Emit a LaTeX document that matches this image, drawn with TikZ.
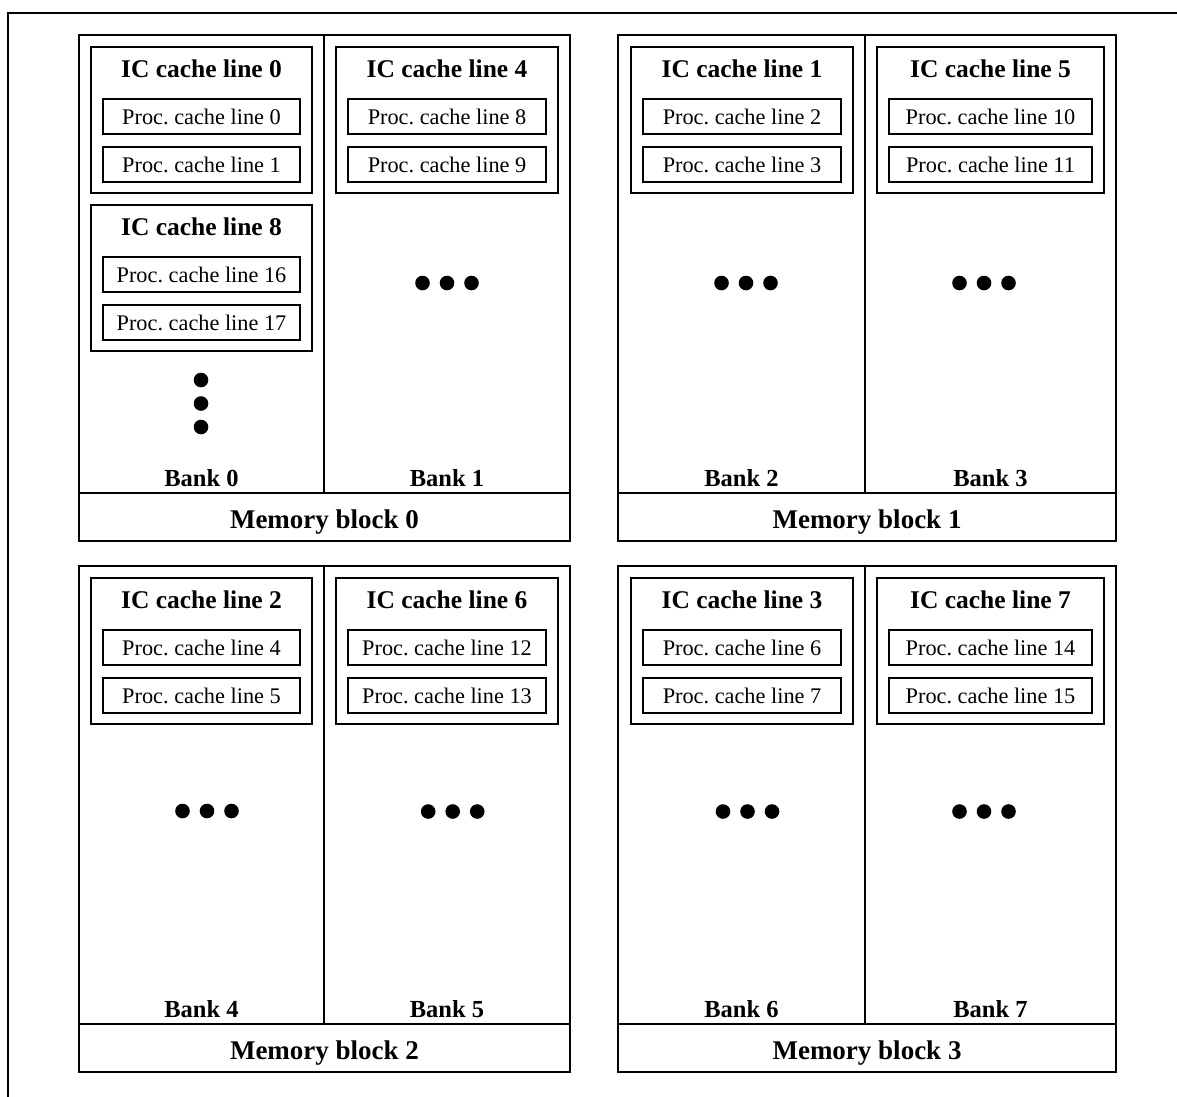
\documentclass[tikz,border=0pt]{standalone}
\usepackage{fontspec}
\setmainfont{Liberation Serif}
\usetikzlibrary{calc}
\frenchspacing
\tikzset{
  frame/.style={draw=black, line width=2pt},
  blk/.style={frame, rectangle, inner sep=0pt, outer sep=0pt, minimum height=506},
  icb/.style={frame, rectangle, inner sep=0pt, outer sep=0pt, minimum height=146},
  procb/.style={frame, rectangle, inner sep=0pt, outer sep=0pt, minimum height=35,
    font=\fontsize{22.3}{27}\selectfont},
  ictitle/.style={inner sep=0pt, font=\fontsize{25.5}{30}\selectfont\bfseries},
  banklbl/.style={inner sep=0pt, font=\fontsize{24.5}{28}\selectfont\bfseries},
  memlbl/.style={inner sep=0pt, font=\fontsize{27}{30}\selectfont\bfseries},
  dotfill/.style={fill=black},
}
% #1 block number, #2 L, #3 D, #4 R, #5 T, #6 bank A, #7 bank B
\newcommand{\memblk}[7]{%
  \node[blk, minimum width={#4-#2}, anchor=north west] (mb#1) at (#2,#5) {};
  \coordinate (mb#1dt) at (#3,#5);
  \coordinate (mb#1db) at (#3,#5+458);
  \coordinate (mb#1ll) at (#2,#5+458);
  \coordinate (mb#1lr) at (#4,#5+458);
  \draw[frame] (mb#1dt) -- (mb#1db);
  \draw[frame] (mb#1ll) -- (mb#1lr);
  \node[banklbl, anchor=base] (bank#6) at ({(#2+#3)/2},#5+451.5) {Bank #6};
  \node[banklbl, anchor=base] (bank#7) at ({(#3+#4)/2},#5+451.5) {Bank #7};
  \node[memlbl, anchor=base] (mlbl#1) at ({(#2+#4)/2},#5+493) {Memory block #1};
}
% #1 name, #2 x1, #3 x2, #4 top, #5 IC num, #6 proc a, #7 proc b
\newcommand{\icbox}[7]{%
  \node[icb, minimum width={#3-#2}, anchor=north west] (#1) at (#2,#4) {};
  \node[ictitle, anchor=base] (#1t) at ({(#2+#3)/2},#4+30) {IC cache line #5};
  \node[procb, minimum width={#3-#2-24}, anchor=north] (#1a) at ({(#2+#3)/2},#4+52) {Proc. cache line #6};
  \node[procb, minimum width={#3-#2-24}, anchor=north] (#1b) at ({(#2+#3)/2},#4+100) {Proc. cache line #7};
}
% horizontal dots: #1 name, #2 cx, #3 cy
\newcommand{\hdots}[3]{%
  \coordinate (#1) at (#2,#3);
  \fill[dotfill] ($(#1)+(-24.5,0)$) circle (7.3);
  \fill[dotfill] (#1) circle (7.3);
  \fill[dotfill] ($(#1)+(24.5,0)$) circle (7.3);
}
\begin{document}
\begin{tikzpicture}[x=1pt, y=-1pt]
\useasboundingbox[fill=white] (0,0) rectangle (1177,1096);
% outer frame (partially cropped)
\coordinate (ofbl) at (8,1110);
\coordinate (oftl) at (8,13);
\coordinate (oftr) at (1190,13);
\draw[line width=2.6pt] (ofbl) -- (oftl) -- (oftr);

% memory blocks
\memblk{0}{79}{324}{570}{35}{0}{1}
\memblk{1}{618}{865}{1116}{35}{2}{3}
\memblk{2}{79}{324}{570}{566}{4}{5}
\memblk{3}{618}{865}{1116}{566}{6}{7}

% IC cache lines
\icbox{ic0}{91}{312}{47}{0}{0}{1}
\icbox{ic8}{91}{312}{205}{8}{16}{17}
\icbox{ic4}{336}{558}{47}{4}{8}{9}
\icbox{ic1}{631}{853}{47}{1}{2}{3}
\icbox{ic5}{877}{1104}{47}{5}{10}{11}
\icbox{ic2}{91}{312}{578}{2}{4}{5}
\icbox{ic6}{336}{558}{578}{6}{12}{13}
\icbox{ic3}{631}{853}{578}{3}{6}{7}
\icbox{ic7}{877}{1104}{578}{7}{14}{15}

% vertical dots in bank 0
\coordinate (vd0) at (201,403.5);
\fill[dotfill] ($(vd0)+(0,-23.5)$) circle (7.3);
\fill[dotfill] (vd0) circle (7.3);
\fill[dotfill] ($(vd0)+(0,23.5)$) circle (7.3);

% horizontal dots
\hdots{hd1}{447}{283}
\hdots{hd2}{746}{283}
\hdots{hd3}{984}{283}
\hdots{hd4}{207}{811}
\hdots{hd5}{452.7}{811.5}
\hdots{hd6}{747.5}{811.5}
\hdots{hd7}{984}{811.5}
\end{tikzpicture}
\end{document}
